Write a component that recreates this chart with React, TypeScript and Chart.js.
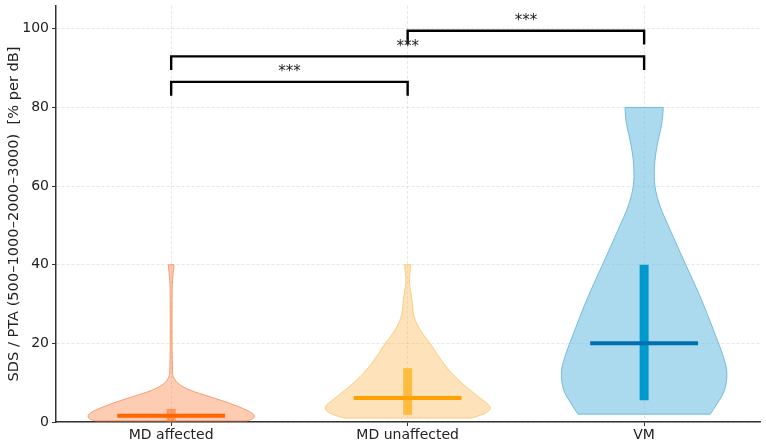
import { useEffect, useRef } from "react";
import { Chart, registerables } from "chart.js";

Chart.register(...registerables);

// ---------- data ----------
const categories = ["MD affected", "MD unaffected", "VM"];
const yTickValues = [0, 20, 40, 60, 80, 100];
const yAxisTitle = "SDS / PTA (500\u20131000\u20132000\u20133000)  [% per dB]";

const medians = [1.6, 6.1, 20];
const q1Values = [0.1, 1.8, 5.5];
const q3Values = [3.3, 13.7, 40];

// violin outlines: value levels and half-widths (in category units)
const mdAffectedLevels = [0.3, 0.8, 1.8, 3.0, 4.7, 6.4, 8.1, 9.8, 11.5, 13.2, 20, 30, 35, 38, 40];
const mdAffectedWidths = [0.32, 0.345, 0.35, 0.32, 0.25, 0.165, 0.08, 0.03, 0.01, 0.006, 0.004, 0.004, 0.005, 0.009, 0.012];

const mdUnaffectedLevels = [1.0, 2.3, 3.9, 6.4, 9.8, 13.2, 16.6, 20.0, 22.6, 25.1, 27.7, 31.1, 35.4, 38, 40];
const mdUnaffectedWidths = [0.27, 0.33, 0.348, 0.3, 0.231, 0.175, 0.132, 0.095, 0.062, 0.038, 0.024, 0.018, 0.008, 0.01, 0.013];

const vmLevels = [2, 4.8, 8.1, 12.4, 16.6, 23.4, 31.9, 40.4, 48.9, 54.8, 59.9, 65, 70, 76, 80];
const vmWidths = [0.28, 0.31, 0.34, 0.35, 0.335, 0.293, 0.237, 0.173, 0.11, 0.068, 0.046, 0.044, 0.054, 0.075, 0.081];

// significance brackets
const bracketFrom = [0, 0, 1];
const bracketTo = [1, 2, 2];
const bracketHeights = [86.5, 93, 99.5];
const bracketLabels = ["***", "***", "***"];

// ---------- styles ----------
const FONT = "'DejaVu Sans', 'Liberation Sans', sans-serif";
const violinFills = ["rgba(250,128,64,0.40)", "rgba(253,180,70,0.38)", "rgba(110,190,225,0.58)"];
const violinEdges = ["rgba(246,150,100,0.9)", "rgba(250,200,120,0.9)", "rgba(110,185,220,0.95)"];
const medianColors = ["#ff6600", "#ffa200", "#0070b0"];
const iqrColors = ["rgba(255,120,40,0.65)", "rgba(255,170,0,0.65)", "#0099cc"];
const MEDIAN_HALF = 0.228;
const BRACKET_LEG = 3.5;

const violinLevels = [mdAffectedLevels, mdUnaffectedLevels, vmLevels];
const violinWidths = [mdAffectedWidths, mdUnaffectedWidths, vmWidths];

function smoothThrough(ctx: CanvasRenderingContext2D, pts: { x: number; y: number }[], first: "move" | "line") {
  if (first === "move") ctx.moveTo(pts[0].x, pts[0].y);
  else ctx.lineTo(pts[0].x, pts[0].y);
  for (let i = 0; i < pts.length - 1; i++) {
    const p0 = pts[Math.max(0, i - 1)];
    const p1 = pts[i];
    const p2 = pts[i + 1];
    const p3 = pts[Math.min(pts.length - 1, i + 2)];
    const c1x = p1.x + (p2.x - p0.x) / 6;
    const c1y = p1.y + (p2.y - p0.y) / 6;
    const c2x = p2.x - (p3.x - p1.x) / 6;
    const c2y = p2.y - (p3.y - p1.y) / 6;
    ctx.bezierCurveTo(c1x, c1y, c2x, c2y, p2.x, p2.y);
  }
}

const violinPlugin = {
  id: "violins",
  beforeDatasetsDraw(chart: any) {
    const { ctx, scales, chartArea } = chart;
    const xs = scales.x;
    const ys = scales.y;
    ctx.save();
    ctx.beginPath();
    ctx.rect(chartArea.left, chartArea.top, chartArea.right - chartArea.left, chartArea.bottom - chartArea.top);
    ctx.clip();
    categories.forEach((_, i) => {
      const levels = violinLevels[i];
      const widths = violinWidths[i];
      const right = levels.map((v, k) => ({ x: xs.getPixelForValue(i + widths[k]), y: ys.getPixelForValue(v) }));
      const left = levels
        .map((v, k) => ({ x: xs.getPixelForValue(i - widths[k]), y: ys.getPixelForValue(v) }))
        .reverse();
      ctx.beginPath();
      smoothThrough(ctx, right, "move");
      smoothThrough(ctx, left, "line");
      ctx.closePath();
      ctx.fillStyle = violinFills[i];
      ctx.fill();
      ctx.lineWidth = 1;
      ctx.strokeStyle = violinEdges[i];
      ctx.stroke();
    });
    ctx.restore();
  },
  afterDatasetsDraw(chart: any) {
    const { ctx, scales } = chart;
    const xs = scales.x;
    const ys = scales.y;
    ctx.save();
    ctx.font = `15px ${FONT}`;
    ctx.fillStyle = "#222";
    ctx.textAlign = "center";
    ctx.textBaseline = "alphabetic";
    bracketLabels.forEach((lab, i) => {
      const cx = xs.getPixelForValue((bracketFrom[i] + bracketTo[i]) / 2);
      const cy = ys.getPixelForValue(bracketHeights[i]) - 5.5;
      ctx.fillText(lab, cx, cy);
    });
    ctx.restore();
  },
};

export default function App() {
  const ref = useRef<HTMLCanvasElement | null>(null);

  useEffect(() => {
    if (!ref.current) return;
    const datasets: any[] = [];
    categories.forEach((_, i) => {
      datasets.push({
        data: [
          { x: i, y: q1Values[i] },
          { x: i, y: q3Values[i] },
        ],
        borderColor: iqrColors[i],
        borderWidth: 9,
        borderCapStyle: "butt",
        pointRadius: 0,
        showLine: true,
        order: 3,
      });
      datasets.push({
        data: [
          { x: i - MEDIAN_HALF, y: medians[i] },
          { x: i + MEDIAN_HALF, y: medians[i] },
        ],
        borderColor: medianColors[i],
        borderWidth: 4,
        borderCapStyle: "butt",
        pointRadius: 0,
        showLine: true,
        order: 2,
      });
    });
    bracketHeights.forEach((h, i) => {
      datasets.push({
        data: [
          { x: bracketFrom[i], y: h - BRACKET_LEG },
          { x: bracketFrom[i], y: h },
          { x: bracketTo[i], y: h },
          { x: bracketTo[i], y: h - BRACKET_LEG },
        ],
        borderColor: "#000",
        borderWidth: 2.4,
        borderJoinStyle: "miter",
        borderCapStyle: "butt",
        pointRadius: 0,
        showLine: true,
        order: 1,
      });
    });

    const chart = new Chart(ref.current, {
      type: "scatter",
      data: { datasets },
      options: {
        animation: false,
        responsive: false,
        maintainAspectRatio: false,
        events: [],
        layout: { padding: { top: 6, right: 6, left: 0, bottom: 0 } },
        plugins: { legend: { display: false }, tooltip: { enabled: false } },
        scales: {
          x: {
            type: "linear",
            min: -0.487,
            max: 2.49,
            afterBuildTicks: (scale: any) => {
              scale.ticks = categories.map((_, i) => ({ value: i }));
            },
            afterFit: (scale: any) => {
              scale.height = 24;
              scale.paddingLeft = 0;
              scale.paddingRight = 0;
            },
            ticks: {
              callback: (v: any) => categories[Math.round(Number(v))] ?? "",
              font: { family: FONT, size: 14 },
              color: "#222",
              padding: 1,
              maxRotation: 0,
              autoSkip: false,
            },
            grid: {
              color: "rgba(0,0,0,0.12)",
              lineWidth: 0.8,
              drawTicks: true,
              tickLength: 4,
              tickColor: "#333",
              tickWidth: 1,
            },
            border: { display: true, color: "#333", width: 1.5, dash: [3, 2] },
          },
          y: {
            type: "linear",
            min: 0,
            max: 105.8,
            afterBuildTicks: (scale: any) => {
              scale.ticks = yTickValues.map((v) => ({ value: v }));
            },
            afterFit: (scale: any) => {
              scale.width = 56;
              scale.paddingTop = 0;
              scale.paddingBottom = 0;
            },
            ticks: {
              font: { family: FONT, size: 14 },
              color: "#222",
              padding: 3,
            },
            grid: {
              color: "rgba(0,0,0,0.12)",
              lineWidth: 0.8,
              drawTicks: true,
              tickLength: 4,
              tickColor: "#333",
              tickWidth: 1,
            },
            border: { display: true, color: "#333", width: 1.5, dash: [3, 2] },
            title: {
              display: true,
              text: yAxisTitle,
              font: { family: FONT, size: 14.6 },
              color: "#222",
              padding: { top: 5, bottom: 0 },
            },
          },
        },
      },
      plugins: [violinPlugin],
    } as any);
    return () => chart.destroy();
  }, []);

  return (
    <div style={{ position: "fixed", left: 0, top: 0, width: 766, height: 446, background: "#fff" }}>
      <canvas ref={ref} width={766} height={446} style={{ display: "block", width: 766, height: 446 }} />
    </div>
  );
}
